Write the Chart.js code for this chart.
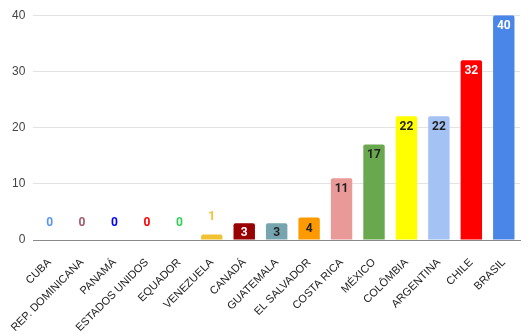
<!DOCTYPE html>
<html>
<head>
<meta charset="utf-8">
<script src="https://cdn.jsdelivr.net/npm/chart.js@4.4.0/dist/chart.umd.min.js"></script>
<style>
  html, body { margin: 0; padding: 0; background: #fff; }
  #wrap { width: 530px; height: 336px; }
</style>
</head>
<body>
<div id="wrap"><canvas id="paises"></canvas></div>
<script>
const countries = ['CUBA', 'REP. DOMINICANA', 'PANAMÁ', 'ESTADOS UNIDOS', 'EQUADOR', 'VENEZUELA',
  'CANADÁ', 'GUATEMALA', 'EL SALVADOR', 'COSTA RICA', 'MÉXICO', 'COLÔMBIA', 'ARGENTINA', 'CHILE', 'BRASIL'];
const counts = [0, 0, 0, 0, 0, 1, 3, 3, 4, 11, 17, 22, 22, 32, 40];
const barColors = ['#4a86e8', '#a25b6a', '#0000ff', '#ff0000', '#34d058', '#f1c232',
  '#990000', '#76a5af', '#ff9900', '#ea9999', '#6aa84f', '#ffff00', '#a4c2f4', '#ff0000', '#4a86e8'];
const labelColors = ['#5b95f0', '#a25b6a', '#0000ff', '#ff0000', '#34d058', '#f1c232',
  '#ffffff', '#222222', '#222222', '#222222', '#222222', '#222222', '#222222', '#ffffff', '#ffffff'];
const yTicks = [0, 10, 20, 30, 40];

// value labels: inside the bar near the top, or above it for tiny bars
const valueLabels = {
  id: 'valueLabels',
  afterDatasetsDraw: (chart) => {
    const ctx = chart.ctx;
    const meta = chart.getDatasetMeta(0);
    ctx.save();
    ctx.font = 'bold 12px Roboto, sans-serif';
    ctx.textAlign = 'center';
    ctx.textBaseline = 'middle';
    meta.data.forEach((bar, i) => {
      const v = counts[i];
      ctx.fillStyle = labelColors[i];
      const y = v >= 3 ? Math.min(bar.y + 11, bar.base - 7) : bar.y - 17;
      ctx.fillText(String(v), bar.x, y);
    });
    ctx.restore();
  }
};

new Chart(document.getElementById('paises'), {
  type: 'bar',
  data: {
    labels: countries,
    datasets: [{
      data: counts,
      backgroundColor: barColors,
      borderRadius: { topLeft: 2, topRight: 2 },
      borderSkipped: 'bottom',
      barPercentage: 0.66,
      categoryPercentage: 1.0
    }]
  },
  options: {
    animation: false,
    responsive: true,
    maintainAspectRatio: false,
    layout: { padding: { top: 14, right: 10, bottom: 0, left: 4 } },
    plugins: {
      legend: { display: false },
      tooltip: { enabled: false }
    },
    scales: {
      x: {
        afterFit: (axis) => { axis.height = 96; },
        grid: { display: false },
        border: { color: '#8a8a8a', width: 1 },
        ticks: {
          minRotation: 45,
          maxRotation: 45,
          autoSkip: false,
          color: '#222222',
          font: { family: 'Liberation Sans, Arial, sans-serif', size: 11 },
          padding: 8
        }
      },
      y: {
        min: 0,
        max: 40,
        afterBuildTicks: (axis) => { axis.ticks = yTicks.map(v => ({ value: v })); },
        grid: { color: '#e3e3e3', lineWidth: 1, drawTicks: false },
        border: { display: false },
        ticks: {
          color: '#444444',
          padding: 8,
          font: { family: 'Liberation Sans, Arial, sans-serif', size: 12 }
        }
      }
    }
  },
  plugins: [valueLabels]
});
</script>
</body>
</html>
